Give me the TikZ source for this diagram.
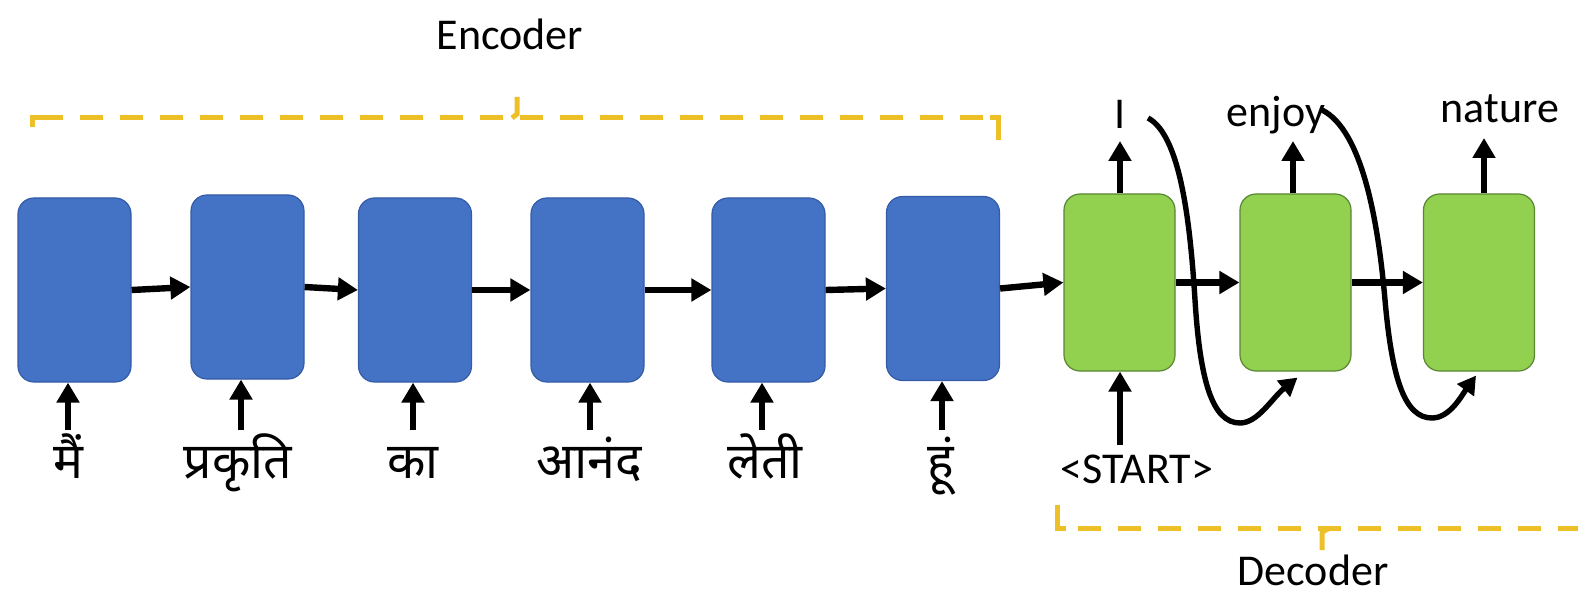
\documentclass[tikz,border=0pt]{standalone}
\usepackage{fontspec}
\setmainfont{Carlito}
\newfontfamily\hindi[Script=Devanagari]{Noto Sans}
\usetikzlibrary{arrows.meta,calc}
\definecolor{encblue}{RGB}{68,114,196}
\definecolor{encborder}{RGB}{52,92,168}
\definecolor{decgreen}{RGB}{146,208,80}
\definecolor{decborder}{RGB}{90,135,50}
\definecolor{bracecol}{RGB}{238,192,40}
\begin{document}
\begin{tikzpicture}[x=0.5pt,y=-0.5pt,
  enc/.style={draw=encborder, line width=0.6pt, fill=encblue, rounded corners=8pt, minimum width=56.5pt, minimum height=92pt, inner sep=0pt},
  dec/.style={draw=decborder, line width=0.6pt, fill=decgreen, rounded corners=8pt, minimum width=55.5pt, minimum height=88.5pt, inner sep=0pt},
  conn/.style={line width=3.2pt, -{Triangle[length=10pt,width=11pt]}},
  loopconn/.style={line width=2.7pt, -{Triangle[length=9pt,width=10pt]}},
  brk/.style={draw=bracecol, line width=2.5pt, dash pattern=on 11.5pt off 8.5pt},
  brktick/.style={draw=bracecol, line width=2.5pt},
  lat/.style={font=\fontsize{22}{26}\selectfont, inner sep=0pt, anchor=base},
  hin/.style={font=\hindi\fontsize{25}{29}\selectfont, inner sep=0pt, anchor=base}]
\useasboundingbox[fill=white] (0,0) rectangle (1578,593);

% encoder boxes
\node[enc] (e1) at (74.5,290) {};
\node[enc] (e2) at (247.5,287) {};
\node[enc] (e3) at (415,290) {};
\node[enc] (e4) at (587.5,290) {};
\node[enc] (e5) at (768.5,290) {};
\node[enc] (e6) at (943,288.5) {};
% decoder boxes
\node[dec] (d1) at (1119.5,282.5) {};
\node[dec] (d2) at (1295.5,282.5) {};
\node[dec] (d3) at (1479,282.5) {};

% recurrent connections
\draw[conn] (e1.east) -- (e2.west);
\draw[conn] (e2.east) -- (e3.west);
\draw[conn] (e3.east) -- (e4.west);
\draw[conn] (e4.east) -- (e5.west);
\draw[conn] (e5.east) -- (e6.west);
\draw[conn] (e6.east) -- (d1.west);

% input words
\node[hin] (w1) at (68,478) {मैं};
\node[hin] (w2) at (238,478) {प्रकृति};
\node[hin] (w3) at (413,478) {का};
\node[hin] (w4) at (589,478) {आनंद};
\node[hin] (w5) at (765,478) {लेती};
\node[hin] (w6) at (941,478) {हूं};
\node[lat] (ws) at (1137,483) {<START>};

\coordinate (i1) at (68,430);
\coordinate (i2) at (241,430);
\coordinate (i3) at (413,430);
\coordinate (i4) at (590,430);
\coordinate (i5) at (762,430);
\coordinate (i6) at (942,430);
\coordinate (i7) at (1120,445);
\draw[conn] (i1) -- (i1 |- e1.south);
\draw[conn] (i2) -- (i2 |- e2.south);
\draw[conn] (i3) -- (i3 |- e3.south);
\draw[conn] (i4) -- (i4 |- e4.south);
\draw[conn] (i5) -- (i5 |- e5.south);
\draw[conn] (i6) -- (i6 |- e6.south);
\draw[conn] (i7) -- (i7 |- d1.south);

% outputs
\node[lat] (t1) at (1120,129) {I};
\node[lat] (t2) at (1276,127) {enjoy};
\node[lat] (t3) at (1500,123) {nature};
\coordinate (o1) at (1120,141);
\coordinate (o2) at (1293,141);
\coordinate (o3) at (1484,138);
\draw[conn] (o1 |- d1.north) -- (o1);
\draw[conn] (o2 |- d2.north) -- (o2);
\draw[conn] (o3 |- d3.north) -- (o3);

% feedback loops
\coordinate (c1s) at (1148,118);
\coordinate (c2s) at (1322,110);
\draw[loopconn] (c1s) .. controls (1180,135) and (1190,220) .. (1195,300)
  .. controls (1200,380) and (1212,423) .. (1240,423)
  .. controls (1258,423) and (1272,398) .. ($(d2.south)+(2,6)$);
\draw[loopconn] (c2s) .. controls (1362,130) and (1378,220) .. (1385,300)
  .. controls (1392,380) and (1405,418) .. (1432,418)
  .. controls (1450,418) and (1462,395) .. ($(d3.south)+(-3,4)$);

\draw[conn] (d1.east) -- (d2.west);
\draw[conn] (d2.east) -- (d3.west);

% braces
\draw[brk] (40,118) -- (990,118);
\draw[brktick] (32,127) -- (32,118) -- (40,118);
\draw[brktick] (512,118) -- (517,114) -- (517,97);
\draw[brktick] (990,118) -- (998,118) -- (998,140);
\node[lat] (enc) at (510,50) {Encoder};

\draw[brk] (1078,528) -- (1578,528);
\draw[brktick] (1057,505) -- (1057,528) -- (1066,528);
\draw[brktick] (1330,528) -- (1322,532) -- (1322,550);
\node[lat] (decl) at (1313,585) {Decoder};
\end{tikzpicture}
\end{document}
